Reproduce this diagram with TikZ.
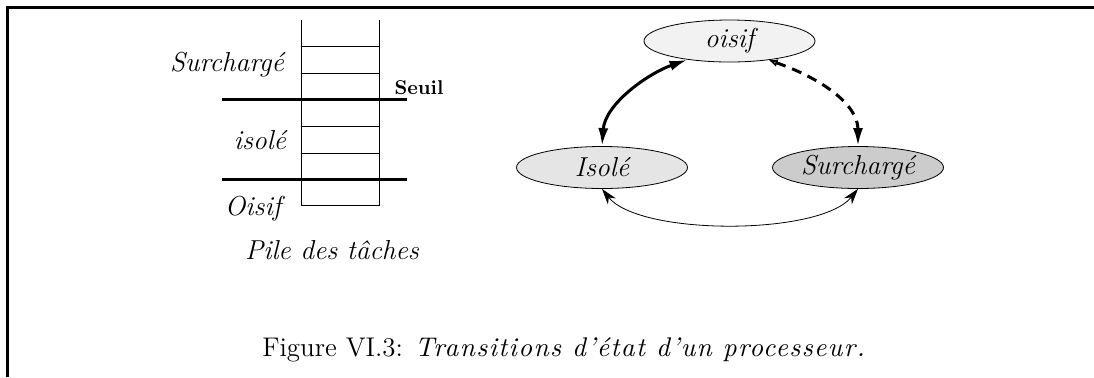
\documentclass[tikz,border=0pt]{standalone}
\usepackage{fontspec}
\newfontface\capit[LetterSpace=5,Ligatures=TeX]{lmroman10-italic.otf}
\usetikzlibrary{arrows.meta,shapes.geometric}
\begin{document}
\begin{tikzpicture}[x=0.5pt,y=-0.5pt,
  lab/.style={font=\fontsize{13.7}{16}\selectfont\itshape, inner sep=0pt},
  state/.style={ellipse, draw, line width=0.4pt, minimum width=85.5pt, minimum height=21pt, inner sep=0pt, font=\fontsize{13.7}{16}\selectfont\itshape},
  thinline/.style={line width=0.4pt},
  thickline/.style={line width=1.5pt},
  frame/.style={line width=1.5pt}]
\useasboundingbox (0,0) rectangle (1094,377);
% frame
\draw[frame] (7.5,377) -- (7.5,7.5) -- (1094,7.5);
% stack
\draw[thinline] (301,20) -- (301,205) -- (379,205) -- (379,20);
\foreach \yy in {46,73,126,153} \draw[thinline] (301,\yy) -- (379,\yy);
\draw[thickline] (222,99) -- (407,99);
\draw[thickline] (222,179) -- (407,179);
\node[lab] (tsur) at (227,65) {Surchargé};
\node[font=\fontsize{10}{12}\selectfont\bfseries, inner sep=0pt] (tseuil) at (419,88) {Seuil};
\node[lab] (tiso) at (260,140) {isolé};
\node[lab] (tois) at (253,209) {Oisif};
\node[lab] (tpile) at (332,250) {Pile des tâches};
% states
\node[state, fill=black!5] (ois) at (729.5,41) {oisif};
\node[state, fill=black!10] (iso) at (602,167.5) {Isolé};
\node[state, fill=black!20] (sur) at (858,167.5) {Surchargé};
% transitions
\draw[thickline, {Latex[length=9pt,width=5pt]}-{Latex[length=9pt,width=5pt]}]
  (ois.204) .. controls +(-40,14) and +(3,-42) .. (iso.north);
\draw[thickline, dash pattern=on 5pt off 3.5pt, {Latex[open,length=4.5pt,width=4pt]}-{Latex[length=9pt,width=5pt]}]
  (ois.334) .. controls +(52,18) and +(0,-42) .. (sur.north);
\draw[thinline, {Stealth[length=8pt,width=5pt]}-{Stealth[length=8pt,width=5pt]}]
  (iso.south) .. controls +(37,47) and +(-38,47) .. (sur.south);
% caption
\node[inner sep=0pt, anchor=base west] (cap) at (262,356) {\fontsize{13.5}{16}\selectfont Figure VI.3: {\capit Transitions d’état d’un processeur.}};
\end{tikzpicture}
\end{document}
